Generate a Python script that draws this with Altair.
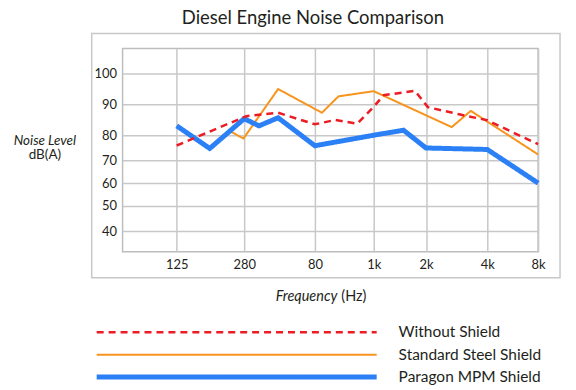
import altair as alt
import pandas as pd

title_text = "Diesel Engine Noise Comparison"
series_names = ["Without Shield", "Standard Steel Shield", "Paragon MPM Shield"]
series_colors = ["#ed1c24", "#f7941d", "#2b80f5"]
band_index = [0, 1, 2, 3, 4, 5, 6]
band_labels = ["125", "280", "80", "1k", "2k", "4k", "8k"]
y_ticks = [40, 50, 60, 70, 80, 90, 100]

# x position in octave-band index (0 = 125 ... 6 = 8k), value in dB(A)
without_x = [0, 1.03, 1.48, 2.0, 2.35, 2.72, 3.0, 3.19, 3.79, 4.03, 4.54, 5.0, 6.0]
without_y = [76.0, 86.2, 87.3, 83.6, 85.0, 83.8, 89.2, 93.0, 94.4, 89.1, 86.8, 84.9, 76.5]
steel_x = [0.78, 0.99, 1.48, 2.12, 2.40, 3.0, 4.42, 4.73, 6.0]
steel_y = [81.5, 78.8, 95.0, 87.3, 92.6, 94.3, 82.7, 87.9, 72.4]
paragon_x = [0, 0.49, 1.0, 1.21, 1.48, 2.0, 3.0, 3.57, 4.0, 5.0, 6.0]
paragon_y = [83.1, 74.8, 85.4, 83.1, 85.7, 75.9, 80.1, 81.7, 75.0, 74.4, 60.0]

rows = []
for name, xs, ys in [(series_names[1], steel_x, steel_y),
                     (series_names[2], paragon_x, paragon_y),
                     (series_names[0], without_x, without_y)]:
    for i, (a, b) in enumerate(zip(xs, ys)):
        rows.append({"series": name, "octave": a, "level": b, "ord": i})
df = pd.DataFrame(rows)

FONT = "Lato"
TXT = "#231f20"

label_expr = "[" + ",".join("'%s'" % s for s in band_labels) + "][datum.value]"

x_scale = alt.Scale(domain=[-1, 0, 1, 2, 3, 4, 5, 6],
                    range=[0, 54.3, 122, 193, 252, 304.5, 366, 417],
                    nice=False, zero=False)
y_scale = alt.Scale(domain=[32, 40, 50, 60, 70, 80, 90, 100, 108],
                    range=[204, 183.3, 157.7, 135, 112.3, 87.3, 56, 25.3, 0],
                    nice=False, zero=False)

color_enc = alt.Color("series:N", scale=alt.Scale(domain=series_names, range=series_colors), legend=None)
dash_enc = alt.StrokeDash("series:N", scale=alt.Scale(type="ordinal", domain=series_names,
                                                      range=[[7, 5], [1, 0], [1, 0]]), legend=None)
width_enc = alt.StrokeWidth("series:N", scale=alt.Scale(type="ordinal", domain=series_names,
                                                        range=[2.5, 2, 5]), legend=None)

lines = alt.Chart(df).mark_line(strokeJoin="miter").encode(
    x=alt.X("octave:Q", scale=x_scale,
            axis=alt.Axis(values=band_index, labelExpr=label_expr, title=None, grid=True,
                          ticks=False, domain=False, labelPadding=7, labelFlush=False)),
    y=alt.Y("level:Q", scale=y_scale,
            axis=alt.Axis(values=y_ticks, title=None, grid=True, ticks=False, domain=False,
                          labelPadding=6)),
    color=color_enc,
    strokeDash=dash_enc,
    strokeWidth=width_enc,
    order="ord:Q",
)

frame = alt.Chart(pd.DataFrame({"k": [0]})).mark_rect(
    filled=False, stroke="#c8c8c8", strokeWidth=1.5
).encode(x=alt.value(-31), x2=alt.value(439), y=alt.value(-15), y2=alt.value(230))

title = alt.Chart(pd.DataFrame({"t": [title_text]})).mark_text(
    font=FONT, fontSize=18.5, color=TXT, align="center", baseline="alphabetic"
).encode(x=alt.value(191), y=alt.value(-24.5), text="t:N")

ylab1 = alt.Chart(pd.DataFrame({"t": ["Noise Level"]})).mark_text(
    font=FONT, fontSize=13.5, fontStyle="italic", color=TXT, align="center", baseline="alphabetic"
).encode(x=alt.value(-78), y=alt.value(96.5), text="t:N")
ylab2 = alt.Chart(pd.DataFrame({"t": ["dB(A)"]})).mark_text(
    font=FONT, fontSize=13.5, color=TXT, align="center", baseline="alphabetic"
).encode(x=alt.value(-78), y=alt.value(110.5), text="t:N")

xlab1 = alt.Chart(pd.DataFrame({"t": ["Frequency"]})).mark_text(
    font=FONT, fontSize=14.5, fontStyle="italic", color=TXT, align="right", baseline="alphabetic"
).encode(x=alt.value(215.5), y=alt.value(253), text="t:N")
xlab2 = alt.Chart(pd.DataFrame({"t": ["(Hz)"]})).mark_text(
    font=FONT, fontSize=14.5, color=TXT, align="left", baseline="alphabetic"
).encode(x=alt.value(219.5), y=alt.value(253), text="t:N")

leg_df = pd.DataFrame({"series": series_names})
leg_y = alt.Y("series:N", scale=alt.Scale(type="point", domain=series_names, range=[284.7, 329.7], padding=0), axis=None)
leg_rules = alt.Chart(leg_df).mark_rule().encode(
    x=alt.value(-26), x2=alt.value(255), y=leg_y,
    color=color_enc, strokeDash=dash_enc, strokeWidth=width_enc,
)
leg_text = alt.Chart(leg_df).mark_text(
    font=FONT, fontSize=15.5, color=TXT, align="left", baseline="middle"
).encode(x=alt.value(277), y=leg_y, text="series:N")

chart = alt.layer(frame, lines, title, ylab1, ylab2, xlab1, xlab2, leg_rules, leg_text).resolve_scale(
    y="independent"
).properties(
    width=417, height=204,
    padding={"left": 115, "top": 40, "right": 30, "bottom": 138},
    autosize=alt.AutoSizeParams(type="none"),
).configure_view(
    stroke="#bdbdbd", strokeWidth=1.5
).configure_axis(
    gridColor="#c8c8c8", gridWidth=1.5, labelFont=FONT, labelFontSize=13, labelColor=TXT
)

chart.save("out.html", embed_options={"renderer": "svg", "actions": False})
